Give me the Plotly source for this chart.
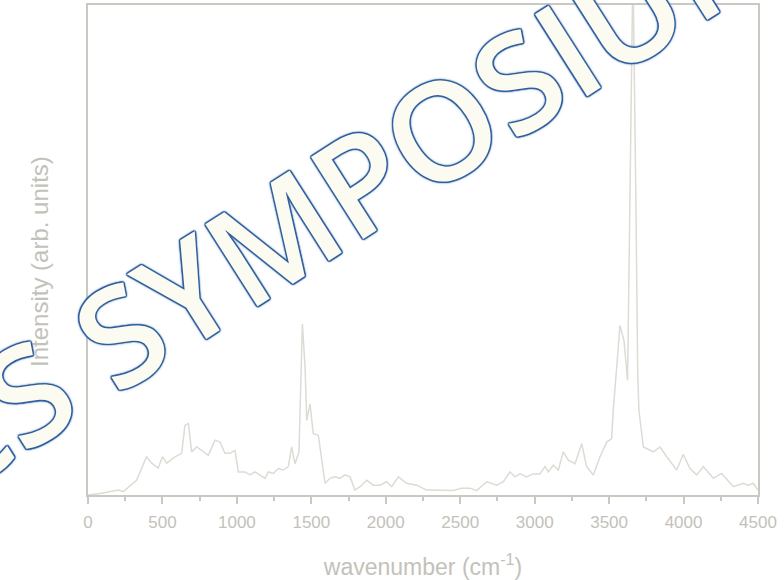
import plotly.graph_objects as go

wavenumber = [0, 81, 204, 237, 326, 393, 428, 472, 500, 528, 584, 629, 651, 674, 696, 730, 763, 808,
              853, 887, 920, 954, 987, 1010, 1054, 1088, 1122, 1155, 1189, 1211, 1245, 1278, 1312,
              1345, 1368, 1390, 1417, 1440, 1458, 1469, 1491, 1513, 1547, 1592, 1625, 1659, 1693,
              1726, 1760, 1793, 1827, 1872, 1916, 1961, 2006, 2040, 2085, 2140, 2208, 2275, 2364,
              2454, 2510, 2566, 2610, 2678, 2745, 2790, 2834, 2868, 2902, 2946, 2991, 3036, 3069,
              3092, 3125, 3159, 3192, 3226, 3271, 3316, 3349, 3394, 3439, 3484, 3517, 3528, 3573,
              3600, 3624, 3640, 3660, 3680, 3692, 3700, 3730, 3797, 3842, 3887, 3954, 3998, 4043,
              4088, 4133, 4200, 4256, 4334, 4401, 4435, 4469, 4498]
intensity = [0.0, 0.3, 1.0, 0.7, 3.0, 7.8, 6.5, 5.5, 7.8, 6.5, 7.8, 8.5, 14.2, 14.6, 8.8, 9.8, 9.1, 8.1,
             11.2, 10.8, 8.5, 8.5, 9.1, 4.7, 4.7, 4.1, 4.7, 4.1, 3.4, 4.7, 4.4, 5.4, 5.1,
             5.8, 9.8, 6.4, 8.8, 34.9, 26.1, 15.2, 18.6, 12.5, 12.2, 2.4, 3.4, 3.7, 3.4,
             4.1, 3.7, 1.0, 1.7, 3.0, 2.0, 2.0, 2.7, 1.7, 3.7, 2.4, 2.0, 1.0, 1.0,
             0.9, 1.4, 1.4, 0.9, 2.7, 2.0, 2.7, 4.7, 3.7, 4.3, 3.7, 4.3, 4.3, 5.8,
             4.7, 6.1, 5.1, 8.8, 7.1, 6.4, 10.5, 5.8, 4.1, 7.8, 10.8, 11.5, 17.3, 34.6,
             31.5, 23.4, 60.0, 108.0, 60.0, 25.0, 17.3, 9.8, 8.8, 9.8, 7.8, 5.1, 8.3, 5.4,
             4.1, 5.8, 3.4, 4.4, 1.7, 2.4, 2.0, 2.4, 1.0]

x_ticks = [0, 500, 1000, 1500, 2000, 2500, 3000, 3500, 4000, 4500]

axis_grey = "#c9c9c2"
text_grey = "#c2c2ba"

fig = go.Figure()
fig.add_trace(go.Scatter(x=wavenumber, y=intensity, mode="lines",
                         line=dict(color="#dcdcd5", width=1.5), showlegend=False))

fig.update_layout(
    width=784, height=580,
    margin=dict(l=88, r=26, t=3, b=85),
    paper_bgcolor="white", plot_bgcolor="white",
    font=dict(family="Liberation Sans, Arial, sans-serif", color=text_grey),
    xaxis=dict(range=[0, 4500], tickvals=x_ticks, ticks="outside", ticklen=7, tickwidth=1.5,
               tickcolor=axis_grey, showline=True, linecolor=axis_grey, linewidth=2, mirror=True,
               showgrid=False, zeroline=False, tickfont=dict(size=17, color=text_grey),
               ticklabelstandoff=4,
               minor=dict(dtick=250, ticks="outside", ticklen=4, tickcolor=axis_grey),
               title=dict(text="wavenumber (cm<sup>-1</sup>)", font=dict(size=23, color=text_grey),
                          standoff=28)),
    yaxis=dict(range=[0, 100], showticklabels=False, ticks="", showline=True, linecolor=axis_grey,
               linewidth=2, mirror=True, showgrid=False, zeroline=False),
)

fig.add_annotation(
    text="Intensity (arb. units)", xref="paper", yref="paper",
    x=(40 - 88) / 670, y=(495 - 261) / 492, xanchor="center", yanchor="middle",
    showarrow=False, textangle=-90, font=dict(size=24, color=text_grey),
)

outline = "#2f5f9c"
d = 1.5
shadow = ",".join([
    f"{d}px 0 1px {outline}", f"-{d}px 0 1px {outline}", f"0 {d}px 1px {outline}", f"0 -{d}px 1px {outline}",
    f"1px 1px 1px {outline}", f"-1px -1px 1px {outline}", f"1px -1px 1px {outline}",
    f"-1px 1px 1px {outline}",
    "0 0 4px #9dbbe0",
])
fig.add_annotation(
    text="ACS SYMPOSIUM", xref="paper", yref="paper",
    x=(310 - 88) / 670, y=(495 - 209) / 492,
    xanchor="center", yanchor="middle", showarrow=False, textangle=-32.5,
    font=dict(family="Open Sans", size=136, color="#fcfbf1", weight=600, shadow=shadow),
)

fig.write_html("out.html", post_script="document.body.style.margin='0';",
               config={"displayModeBar": False})
